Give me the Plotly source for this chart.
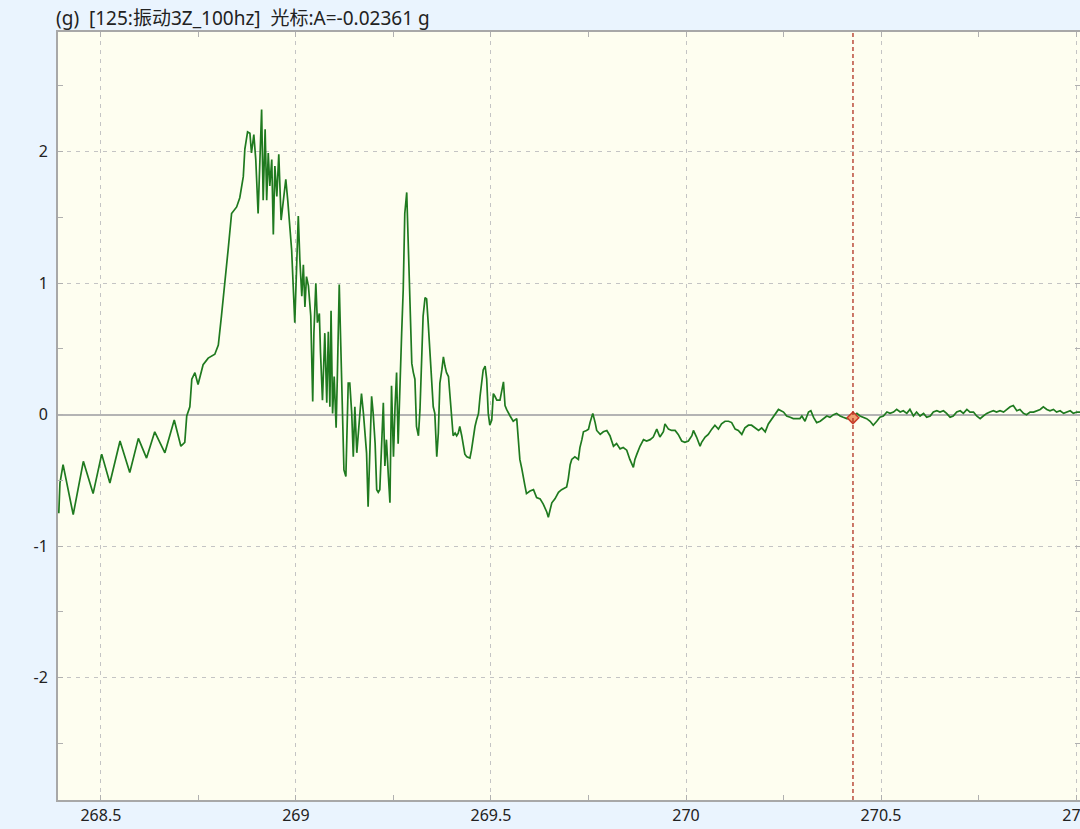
import plotly.graph_objs as go

# time (s) and acceleration (g)
t_part1 = [268.392, 268.395, 268.403, 268.429, 268.455, 268.480, 268.502, 268.523,
           268.549, 268.574, 268.596, 268.617, 268.638, 268.664, 268.688, 268.705,
           268.715, 268.720, 268.728, 268.733, 268.741, 268.749, 268.762, 268.775,
           268.792, 268.801, 268.809, 268.818, 268.826, 268.835, 268.848, 268.856,
           268.865, 268.869, 268.876, 268.882, 268.886, 268.892, 268.897, 268.903,
           268.908, 268.912, 268.916, 268.921, 268.925, 268.929, 268.933, 268.938,
           268.942, 268.946, 268.951, 268.956, 268.962, 268.967, 268.974, 268.979]
a_part1 = [-0.75, -0.52, -0.38, -0.76, -0.355, -0.60, -0.30, -0.52,
           -0.20, -0.44, -0.18, -0.33, -0.13, -0.29, -0.04, -0.24,
           -0.21, -0.01, 0.06, 0.27, 0.32, 0.23, 0.38, 0.43,
           0.46, 0.53, 0.75, 1.00, 1.25, 1.53, 1.58, 1.65,
           1.81, 2.02, 2.15, 2.14, 1.99, 2.13, 1.94, 1.53,
           2.02, 2.32, 1.63, 2.17, 1.63, 1.99, 1.74, 1.94,
           1.37, 1.89, 1.66, 1.98, 1.48, 1.63, 1.79, 1.63]

t_part2 = [268.989, 268.997, 269.006, 269.010, 269.015, 269.019, 269.023, 269.027,
           269.032, 269.038, 269.043, 269.046, 269.051, 269.055, 269.060, 269.063,
           269.068, 269.074, 269.079, 269.083, 269.087, 269.090, 269.094, 269.098,
           269.103, 269.106, 269.111, 269.115, 269.118, 269.123, 269.128, 269.134,
           269.138, 269.143, 269.147, 269.151, 269.156, 269.160, 269.164, 269.168,
           269.173, 269.177, 269.181, 269.185, 269.190, 269.194, 269.198, 269.203,
           269.207, 269.211, 269.215, 269.220, 269.224, 269.228, 269.232, 269.237,
           269.241, 269.245, 269.250, 269.254, 269.258, 269.262, 269.267, 269.271,
           269.275, 269.279, 269.284, 269.288, 269.292, 269.297, 269.301, 269.305,
           269.309, 269.314, 269.318, 269.322, 269.326, 269.331, 269.335, 269.339,
           269.344, 269.348, 269.352, 269.356, 269.361, 269.365, 269.369, 269.374,
           269.378, 269.382, 269.386, 269.391, 269.395, 269.399, 269.403, 269.408,
           269.412, 269.416, 269.420, 269.425, 269.429, 269.433, 269.438, 269.446,
           269.450, 269.455, 269.459, 269.463, 269.468, 269.472, 269.476, 269.480,
           269.485, 269.489, 269.493, 269.497, 269.502, 269.506, 269.510, 269.515,
           269.523]
a_part2 = [1.25, 0.70, 1.51, 1.18, 0.90, 1.14, 0.82, 1.05,
           0.98, 0.75, 0.10, 0.62, 1.00, 0.70, 0.77, 0.47,
           0.11, 0.62, 0.09, 0.63, 0.06, 0.79, 0.01, 0.29,
           -0.10, 0.27, 0.99, 0.52, 0.19, -0.42, -0.47, 0.24,
           0.24, 0.01, -0.32, 0.06, -0.29, -0.14, 0.01, 0.16,
           0.01, -0.12, -0.29, -0.70, -0.16, 0.14, 0.01, -0.22,
           -0.57, -0.59, -0.57, -0.19, 0.09, -0.39, -0.19, -0.47,
           -0.67, 0.22, -0.32, 0.06, 0.32, -0.22, 0.37, 0.62,
           0.95, 1.53, 1.69, 1.28, 0.95, 0.39, 0.32, 0.27,
           -0.09, -0.16, 0.04, 0.37, 0.75, 0.89, 0.88, 0.70,
           0.47, 0.27, 0.06, 0.01, -0.32, -0.14, 0.24, 0.34,
           0.44, 0.37, 0.32, 0.29, 0.14, 0.01, -0.16, -0.14,
           -0.16, -0.14, -0.09, -0.16, -0.24, -0.30, -0.32, -0.33,
           -0.27, -0.16, -0.09, -0.04, 0.01, 0.14, 0.27, 0.34,
           0.37, 0.27, 0.01, -0.08, -0.04, 0.16, 0.14, 0.11,
           0.11]

t_part3 = [269.532, 269.536, 269.540, 269.549, 269.557, 269.566, 269.570, 269.574,
           269.579, 269.583, 269.587, 269.591, 269.600, 269.609, 269.617, 269.626,
           269.634, 269.643, 269.647, 269.651, 269.656, 269.664, 269.673, 269.681,
           269.694, 269.698, 269.703, 269.707, 269.715, 269.724, 269.728, 269.733,
           269.737, 269.745, 269.750, 269.754, 269.761, 269.767, 269.771, 269.780,
           269.788, 269.797, 269.805, 269.814, 269.822, 269.831, 269.839, 269.848,
           269.856, 269.865, 269.869, 269.874, 269.882, 269.891, 269.899, 269.908,
           269.916, 269.925, 269.933, 269.942, 269.946, 269.955, 269.963, 269.972,
           269.980, 269.989, 269.997, 270.006, 270.015, 270.019, 270.027, 270.036,
           270.040, 270.049, 270.057, 270.066, 270.074, 270.083, 270.091, 270.100,
           270.109, 270.117, 270.126, 270.134, 270.143, 270.151, 270.160, 270.168,
           270.177, 270.186, 270.194, 270.203, 270.211, 270.220, 270.228, 270.237]
a_part3 = [0.25, 0.07, 0.04, -0.01, -0.05, -0.03, -0.19, -0.34,
           -0.41, -0.49, -0.54, -0.60, -0.58, -0.57, -0.63, -0.64,
           -0.68, -0.74, -0.78, -0.73, -0.67, -0.64, -0.59, -0.57,
           -0.55, -0.49, -0.38, -0.34, -0.32, -0.34, -0.25, -0.19,
           -0.13, -0.12, -0.11, -0.06, 0.01, -0.06, -0.12, -0.15,
           -0.13, -0.12, -0.16, -0.24, -0.22, -0.26, -0.25, -0.27,
           -0.34, -0.40, -0.34, -0.30, -0.24, -0.19, -0.20, -0.19,
           -0.17, -0.11, -0.17, -0.13, -0.07, -0.11, -0.12, -0.12,
           -0.15, -0.20, -0.21, -0.20, -0.16, -0.12, -0.17, -0.24,
           -0.21, -0.17, -0.15, -0.11, -0.08, -0.11, -0.07, -0.05,
           -0.05, -0.06, -0.11, -0.12, -0.15, -0.10, -0.08, -0.08,
           -0.10, -0.12, -0.10, -0.13, -0.07, -0.03, 0.01, 0.04]

t_part4 = [270.250, 270.258, 270.267, 270.275, 270.284, 270.292, 270.297, 270.305,
           270.314, 270.320, 270.327, 270.335, 270.344, 270.352, 270.361, 270.369,
           270.378, 270.386, 270.395, 270.403, 270.412, 270.421, 270.429, 270.438,
           270.446, 270.455, 270.463, 270.472, 270.480, 270.489, 270.497, 270.506,
           270.515, 270.523, 270.532, 270.540, 270.549, 270.557, 270.566, 270.574,
           270.583, 270.591, 270.600, 270.609, 270.617, 270.626, 270.634, 270.643,
           270.651, 270.660, 270.668, 270.677, 270.685, 270.694, 270.703, 270.711,
           270.720, 270.728, 270.737, 270.745, 270.754, 270.762, 270.771, 270.779,
           270.788, 270.796, 270.805, 270.814, 270.822, 270.831, 270.839, 270.848,
           270.856, 270.865, 270.873, 270.882, 270.891, 270.899, 270.908, 270.916,
           270.925, 270.933, 270.942, 270.950, 270.959, 270.968, 270.976, 270.985,
           270.993, 271.002, 271.010]
a_part4 = [0.02, -0.01, -0.02, -0.03, -0.03, -0.03, -0.01, -0.05,
           0.02, 0.03, -0.02, -0.06, -0.05, -0.03, -0.01, -0.02,
           0.00, 0.01, -0.01, -0.02, -0.03, -0.03, -0.01, 0.01,
           -0.01, -0.02, -0.03, -0.05, -0.08, -0.05, -0.02, -0.01,
           0.02, 0.01, 0.02, 0.04, 0.02, 0.03, 0.01, 0.04,
           -0.01, 0.02, -0.01, 0.01, -0.02, -0.01, 0.02, 0.03,
           0.02, 0.03, 0.01, -0.02, -0.01, 0.02, 0.03, 0.01,
           0.04, 0.02, 0.02, -0.01, -0.03, -0.01, 0.01, 0.02,
           0.03, 0.02, 0.03, 0.02, 0.04, 0.06, 0.07, 0.03,
           0.04, 0.01, 0.00, 0.02, 0.02, 0.03, 0.04, 0.06,
           0.04, 0.03, 0.04, 0.02, 0.03, 0.01, 0.02, 0.03,
           0.01, 0.02, 0.02]

time_s = t_part1 + t_part2 + t_part3 + t_part4
accel_g = a_part1 + a_part2 + a_part3 + a_part4

cursor_t = 270.428
cursor_a = -0.02361
title_text = "(g)  [125:振动3Z_100hz]  光标:A=-0.02361 g"

x_ticks = [268.5, 269, 269.5, 270, 270.5, 271]
x_tick_labels = ["268.5", "269", "269.5", "270", "270.5", "271"]
y_ticks = [-2, -1, 0, 1, 2]
y_tick_labels = ["-2", "-1", "0", "1", "2"]

FONT = "Noto Sans, Noto Sans CJK SC, sans-serif"

fig = go.Figure()
fig.add_trace(
    go.Scatter(
        x=time_s,
        y=accel_g,
        mode="lines",
        line=dict(color="#1f7a1f", width=1.7),
        hoverinfo="x+y",
    )
)
# cursor marker
fig.add_trace(
    go.Scatter(
        x=[cursor_t],
        y=[cursor_a],
        mode="markers",
        marker=dict(symbol="diamond", size=9, color="#f0a070",
                    line=dict(color="#c83a28", width=1.5)),
    )
)
fig.add_vline(x=cursor_t, line=dict(color="#b03020", width=1.3, dash="4px,3px"))

fig.add_annotation(
    text=title_text, xref="paper", yref="paper", x=-0.004, y=1.0,
    xanchor="left", yanchor="bottom", yshift=-1, showarrow=False,
    font=dict(family=FONT, size=19, color="#222222"),
)

axis_common = dict(
    showline=True, linecolor="#a8a8a8", linewidth=2, mirror="ticks",
    showgrid=True, gridcolor="#c4c4c4", griddash="4px,5px", gridwidth=1,
    ticks="", automargin=False,
    tickfont=dict(family=FONT, size=16, color="#222222"),
)

fig.update_xaxes(
    range=[268.39, 271.01], tickvals=x_ticks, ticktext=x_tick_labels,
    ticklabeloverflow="allow", zeroline=False,
    minor=dict(ticks="inside", ticklen=5, tickcolor="#b0b0b0", dtick=0.25,
               tick0=268.5, showgrid=False),
    **axis_common,
)
fig.update_yaxes(
    range=[-2.93, 2.91], tickvals=y_ticks, ticktext=y_tick_labels,
    zeroline=True, zerolinecolor="#b4b4b4", zerolinewidth=1.5,
    minor=dict(ticks="inside", ticklen=5, tickcolor="#b0b0b0", dtick=0.5,
               tick0=0, showgrid=False),
    ticklabelstandoff=5,
    **axis_common,
)

fig.update_layout(
    width=1080, height=829,
    margin=dict(l=58, r=0, t=32, b=29),
    paper_bgcolor="#eaf4fe",
    plot_bgcolor="#fefef0",
    showlegend=False,
    font=dict(family=FONT),
)

# drop the default page margin so the chart sits at the window's corner
fig.write_html(
    "out.html",
    config={"displayModeBar": False},
    post_script="document.body.style.margin='0';document.body.style.background='#eaf4fe';",
)
